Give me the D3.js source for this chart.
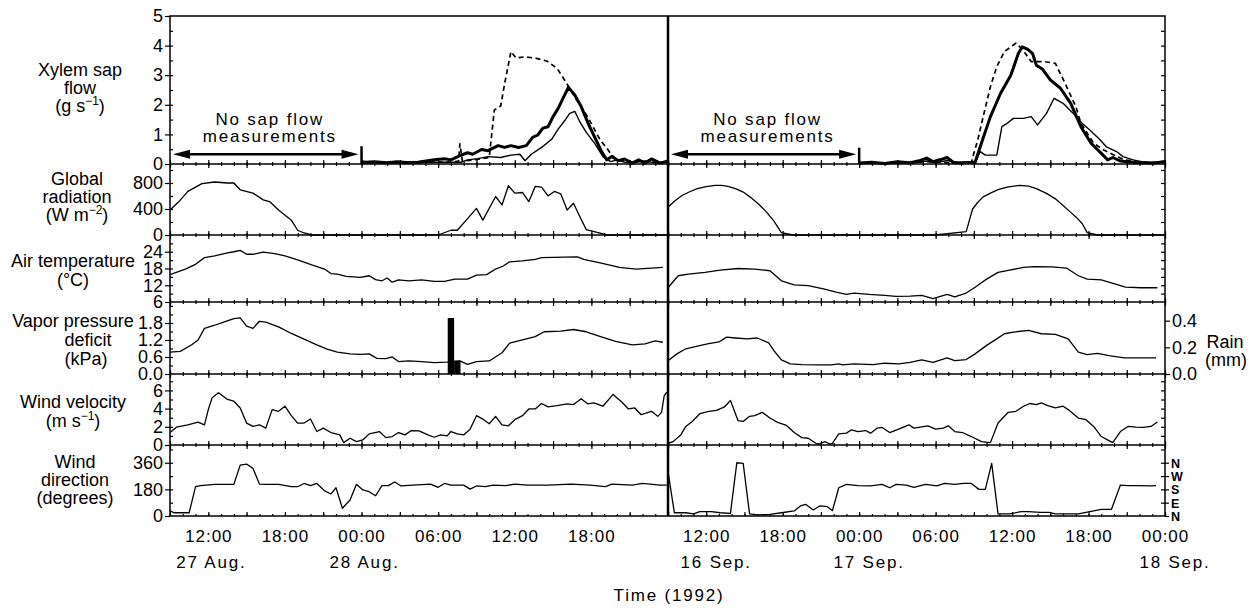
<!DOCTYPE html>
<html>
<head>
<meta charset="utf-8">
<script src="https://cdn.jsdelivr.net/npm/d3@7"></script>
<style>
  body { margin: 0; background: #fff; }
  svg { display: block; }
</style>
</head>
<body>
<svg id="chart" width="1257" height="608"></svg>
<script>
// All series: [hours after 09:00 of the first day shown, value]

// Xylem sap flow (g s-1), 28 Aug. side
const sapAugThick = [[15.0,0.05],[16.0,0.08],[17.0,0.04],[17.8,0.08],[18.5,0.05],[19.4,0.06],[20.7,0.14],[21.5,0.18],[22.0,0.14],[22.8,0.30],[23.3,0.38],[23.7,0.33],[24.4,0.49],[24.9,0.45],[25.7,0.62],[26.2,0.56],[26.7,0.62],[27.3,0.56],[27.9,0.62],[28.4,0.90],[28.8,0.98],[29.2,1.21],[29.6,1.26],[30.0,1.60],[30.4,1.88],[30.9,2.33],[31.2,2.59],[31.7,2.33],[32.2,1.94],[32.8,1.32],[33.3,0.87],[33.8,0.42],[34.2,0.14],[34.6,0.25],[35.1,0.11],[35.6,0.17],[36.2,0.03],[36.7,0.14],[37.2,0.03],[37.7,0.17],[38.4,0.03],[39.0,0.10]];
const sapAugThin = [[15.0,0.03],[16.5,0.05],[18.1,0.03],[20.7,0.06],[22.8,0.06],[23.3,0.14],[24.1,0.18],[24.9,0.25],[25.9,0.22],[26.7,0.30],[27.4,0.33],[27.8,0.11],[28.3,0.33],[29.1,0.56],[29.9,0.84],[30.4,1.18],[30.9,1.46],[31.3,1.71],[31.7,1.78],[32.1,1.42],[32.6,1.07],[33.3,0.67],[33.9,0.25],[34.5,0.08],[35.1,0.15],[35.6,0.06],[36.2,0.05],[37.2,0.10],[38.0,0.04],[39.0,0.05]];
const sapAugDash = [[15.0,0.10],[16.0,0.04],[17.5,0.06],[19.0,0.04],[20.5,0.07],[22.0,0.06],[22.6,0.10],[22.7,0.68],[22.9,0.10],[24.0,0.15],[25.0,0.22],[25.4,1.82],[25.9,1.96],[26.2,2.70],[26.7,3.80],[27.1,3.58],[27.8,3.62],[28.7,3.57],[29.5,3.48],[30.3,3.24],[30.9,2.84],[31.3,2.56],[32.0,2.05],[32.7,1.60],[33.2,1.20],[33.7,0.80],[34.2,0.54],[34.6,0.30],[35.1,0.12],[35.8,0.05],[37.0,0.10],[38.0,0.05],[39.0,0.08]];

// Xylem sap flow, 17 Sep. side
const sapSepThick = [[15.0,0.03],[16.0,0.06],[17.0,0.02],[18.0,0.08],[19.0,0.04],[19.8,0.12],[20.3,0.20],[20.8,0.08],[21.4,0.15],[21.9,0.22],[22.4,0.05],[23.0,0.04],[23.6,0.05],[24.1,0.05],[24.5,0.58],[25.3,1.60],[26.1,2.39],[26.9,3.00],[27.5,3.74],[27.8,3.96],[28.2,3.88],[28.6,3.74],[28.9,3.34],[29.4,3.20],[30.0,2.84],[30.8,2.56],[31.6,2.05],[32.4,1.26],[33.2,0.70],[34.0,0.36],[34.5,0.14],[34.9,0.22],[35.5,0.10],[36.6,0.05],[38.1,0.03],[39.0,0.08]];
const sapSepThin = [[15.0,0.02],[17.0,0.04],[19.0,0.03],[20.3,0.10],[21.0,0.04],[21.9,0.12],[23.0,0.03],[24.1,0.05],[24.5,0.42],[24.9,0.30],[25.8,0.30],[26.2,1.26],[26.6,1.37],[27.1,1.54],[27.9,1.54],[28.5,1.60],[29.0,1.32],[29.7,1.71],[30.3,2.22],[31.0,2.05],[31.8,1.71],[32.3,1.45],[33.1,1.15],[33.9,0.82],[34.4,0.58],[35.2,0.42],[35.7,0.25],[36.5,0.14],[37.5,0.05],[39.0,0.05]];
const sapSepDash = [[15.0,0.03],[18.0,0.03],[20.3,0.08],[22.0,0.04],[23.8,0.05],[24.0,0.36],[24.3,0.80],[24.8,1.72],[25.3,2.61],[25.8,3.29],[26.4,3.80],[27.3,4.08],[27.8,3.88],[28.5,3.46],[29.5,3.46],[30.4,3.40],[31.1,2.78],[32.0,1.94],[32.4,1.38],[32.9,1.04],[33.4,0.70],[34.2,0.47],[35.0,0.30],[35.8,0.14],[37.1,0.07],[38.2,0.05],[39.0,0.10]];

// Global radiation (W m-2)
const radAug = [[0,384],[0.7,514],[1.4,670],[2.5,790],[3.5,815],[4.5,800],[5.0,800],[5.5,695],[6.5,644],[7.3,540],[7.8,514],[8.5,384],[9.5,228],[10.0,73],[10.5,31],[11.1,0],[21.0,0],[22.0,73],[22.5,73],[23.2,228],[24.0,410],[24.5,228],[25.5,592],[26.0,462],[26.5,758],[27.0,644],[27.6,654],[28.1,514],[28.6,747],[29.1,737],[29.6,602],[30.1,670],[30.6,633],[31.1,384],[31.6,488],[32.1,280],[32.6,83],[33.6,31],[34.2,0],[39.0,0]];
const radSep = [[0,426],[0.5,520],[1.1,608],[1.7,665],[2.3,712],[3.0,745],[3.7,764],[4.2,762],[4.7,749],[5.3,712],[5.9,660],[6.5,575],[7.1,478],[7.7,360],[8.3,218],[8.9,36],[9.8,0],[21.0,0],[23.4,52],[23.9,400],[24.3,500],[24.7,582],[25.3,645],[25.9,697],[26.7,740],[27.6,764],[28.3,752],[28.9,712],[29.7,640],[30.4,556],[31.0,455],[31.6,348],[32.1,260],[32.5,177],[32.9,36],[33.7,0],[39.0,0]];

// Air temperature (°C)
const tempAug = [[0,15.8],[1.2,17.8],[2.0,19.5],[2.7,21.9],[3.5,22.5],[4.5,23.6],[5.0,24.0],[5.5,24.5],[6.0,23.1],[6.5,23.1],[7.3,23.9],[8.2,23.3],[9.0,22.5],[10.0,21.1],[11.1,19.3],[12.1,17.8],[12.6,16.2],[13.1,16.0],[13.8,15.2],[14.9,14.8],[15.6,15.4],[16.1,14.0],[16.6,13.6],[17.0,14.6],[17.4,13.1],[17.9,13.9],[18.7,13.6],[19.7,13.9],[20.7,13.4],[21.5,13.4],[22.3,14.2],[23.3,14.2],[24.0,15.6],[24.8,15.8],[25.5,17.8],[26.1,18.9],[26.6,20.4],[27.6,20.7],[28.6,21.3],[29.1,21.9],[30.9,22.1],[31.9,22.2],[32.4,21.3],[33.6,20.1],[35.2,18.4],[36.5,17.8],[37.7,18.1],[38.6,18.4]];
const tempSep = [[0,11.1],[0.8,15.4],[1.6,16.0],[2.9,16.6],[4.1,17.4],[5.5,18.0],[6.8,17.8],[8.0,17.2],[8.9,13.6],[9.9,12.1],[11.0,11.9],[12.2,10.7],[13.2,9.5],[14.0,8.7],[14.6,9.2],[15.8,8.7],[17.0,8.4],[17.9,8.0],[19.0,8.1],[19.9,8.4],[20.8,7.2],[21.9,8.7],[22.5,7.8],[23.4,9.2],[24.1,11.3],[25.0,14.2],[25.9,16.6],[26.8,17.4],[27.9,18.4],[28.7,18.7],[30.1,18.6],[31.3,18.1],[32.2,15.4],[32.9,14.2],[34.0,13.9],[35.9,11.3],[37.1,11.1],[38.4,11.1]];

// Vapor pressure deficit (kPa)
const vpdAug = [[0,0.77],[0.8,0.80],[1.7,1.03],[2.2,1.20],[2.7,1.61],[3.5,1.72],[4.2,1.83],[5.0,1.95],[5.5,1.98],[6.0,1.69],[6.5,1.61],[7.0,1.86],[7.5,1.83],[8.5,1.66],[9.5,1.43],[10.5,1.23],[11.5,1.03],[12.3,0.88],[13.1,0.77],[14.1,0.71],[14.9,0.69],[15.6,0.71],[16.2,0.55],[16.9,0.54],[17.4,0.60],[17.9,0.44],[18.7,0.46],[19.7,0.44],[20.7,0.40],[21.7,0.42],[22.7,0.46],[23.3,0.34],[24.0,0.44],[25.0,0.46],[26.0,0.75],[26.6,1.09],[27.6,1.20],[28.6,1.32],[29.3,1.49],[30.6,1.51],[31.6,1.57],[32.6,1.49],[33.6,1.34],[34.9,1.15],[36.2,1.03],[37.2,1.06],[38.0,1.17],[38.6,1.12]];
const vpdSep = [[0,0.47],[0.7,0.71],[1.4,0.89],[2.3,0.98],[3.2,1.07],[4.0,1.13],[4.6,1.30],[5.3,1.27],[6.2,1.24],[7.0,1.27],[7.9,1.10],[8.3,0.83],[8.9,0.50],[9.6,0.36],[10.5,0.33],[11.9,0.32],[12.8,0.32],[13.4,0.36],[13.7,0.32],[14.6,0.36],[16.1,0.33],[17.0,0.38],[18.1,0.36],[19.0,0.41],[19.9,0.50],[20.8,0.41],[21.9,0.57],[22.5,0.47],[23.4,0.51],[24.1,0.71],[25.0,1.01],[25.8,1.24],[26.4,1.42],[27.1,1.48],[28.3,1.54],[29.3,1.42],[30.4,1.40],[31.4,1.24],[32.2,0.77],[32.9,0.68],[33.7,0.73],[34.6,0.65],[35.8,0.57],[37.0,0.57],[38.3,0.57]];

// Rain (mm) per half hour, start of interval
const rainAug = [[21.75,0.42],[22.25,0.10]];

// Wind velocity (m s-1)
const windAug = [[0,1.37],[0.5,1.96],[1.4,2.22],[2.2,2.52],[2.7,2.22],[3.0,3.89],[3.3,5.19],[3.8,5.74],[4.5,5.00],[5.0,4.81],[5.5,4.07],[6.0,2.41],[6.5,2.04],[7.0,2.22],[7.5,1.85],[8.0,3.89],[8.5,3.70],[9.0,4.26],[9.5,3.22],[10.0,2.41],[10.5,2.41],[11.0,2.85],[11.5,1.48],[12.0,1.85],[12.6,1.37],[13.3,1.11],[13.6,0.26],[14.1,0.74],[14.6,0.37],[15.1,0.56],[15.6,1.22],[16.4,1.48],[16.9,0.81],[17.4,0.93],[17.9,1.37],[18.4,1.11],[18.9,1.59],[19.5,1.56],[20.2,1.11],[20.7,0.85],[21.2,1.11],[21.7,1.00],[22.0,1.48],[22.5,1.22],[23.0,1.11],[23.5,1.74],[24.0,3.22],[24.5,2.85],[25.0,2.33],[25.5,3.15],[26.0,2.22],[26.5,2.11],[27.0,2.78],[27.6,3.22],[28.1,3.96],[28.6,3.96],[29.1,4.56],[29.6,4.19],[30.3,4.33],[31.1,4.52],[31.6,4.44],[32.2,5.07],[32.7,4.52],[33.2,4.63],[33.9,4.26],[34.7,5.56],[35.4,4.70],[35.9,3.96],[36.4,4.07],[36.9,3.33],[37.7,3.70],[38.2,3.15],[38.5,3.60],[38.7,5.40],[38.9,5.80]];
const windSep = [[0,0.19],[0.4,0.37],[1.0,1.11],[1.4,2.04],[1.9,2.59],[2.5,3.44],[3.2,3.70],[3.8,3.81],[4.4,4.15],[4.9,4.89],[5.5,2.67],[5.9,2.59],[6.4,3.15],[6.8,3.22],[7.4,3.59],[8.0,2.96],[8.6,2.48],[9.3,2.15],[9.9,1.37],[10.5,0.81],[11.0,0.74],[11.6,0.19],[11.9,0.11],[12.3,0.37],[12.7,0.11],[12.9,0.19],[13.4,1.22],[14.0,1.30],[14.4,1.67],[14.9,1.48],[15.5,1.59],[15.9,1.30],[16.4,1.85],[16.8,1.93],[17.4,1.37],[18.1,1.74],[18.9,2.22],[19.3,1.85],[20.4,2.11],[21.0,1.74],[21.6,1.85],[22.0,2.11],[22.5,1.48],[23.1,1.37],[23.8,0.93],[24.6,0.37],[25.3,0.26],[25.9,2.41],[26.7,3.59],[27.3,3.70],[27.9,4.26],[28.4,4.56],[28.9,4.44],[29.3,4.63],[29.8,4.33],[30.4,4.07],[31.0,4.26],[31.4,3.89],[32.2,2.96],[32.8,2.78],[33.4,2.04],[34.0,0.93],[34.6,0.48],[34.9,0.26],[35.5,1.48],[36.1,2.04],[36.7,1.96],[37.3,1.93],[37.9,2.04],[38.4,2.52]];

// Wind direction (degrees)
const dirAug = [[0,36],[0.3,22],[1.5,22],[2.0,198],[2.4,205],[3.5,214],[4.5,214],[5.0,214],[5.5,344],[6.0,351],[6.5,322],[7.0,216],[7.5,214],[8.5,214],[9.5,198],[10.0,198],[10.5,220],[11.0,205],[11.5,220],[12.1,171],[12.6,149],[13.0,191],[13.5,52],[14.1,108],[14.6,214],[15.1,176],[15.6,164],[16.1,137],[16.6,205],[17.1,205],[17.6,230],[18.1,203],[19.0,209],[20.4,216],[21.0,194],[21.5,220],[22.0,209],[23.0,209],[23.5,182],[24.0,203],[24.7,198],[25.3,209],[26.3,205],[27.0,216],[28.0,209],[29.6,209],[31.4,216],[32.9,209],[34.1,198],[34.6,216],[36.2,209],[37.0,220],[38.4,209],[38.9,209]];
const dirSep = [[0,300],[0.5,22],[1.4,22],[2.0,14],[2.5,29],[3.4,29],[4.1,22],[4.9,18],[5.4,360],[5.9,356],[6.4,14],[7.0,7],[8.0,11],[8.9,22],[9.9,34],[10.4,68],[10.8,79],[11.4,41],[11.9,68],[12.5,63],[12.9,36],[13.4,191],[14.0,214],[14.9,205],[15.9,203],[16.8,214],[17.4,191],[17.9,214],[18.7,209],[19.3,194],[20.2,214],[21.1,203],[21.7,220],[22.5,214],[23.2,220],[23.8,220],[24.4,180],[24.9,180],[25.4,356],[25.9,14],[26.8,14],[27.7,29],[28.3,29],[29.2,25],[29.9,25],[30.4,14],[31.3,14],[32.2,14],[33.1,29],[34.0,45],[34.8,45],[35.5,209],[36.1,205],[37.0,205],[37.9,203],[38.3,205]];

// axis ticks and labels
const sapTicks = [0, 1, 2, 3, 4, 5];
const radTicks = [0, 400, 800];
const tempTicks = [6, 12, 18, 24];
const vpdTicks = [0, 0.6, 1.2, 1.8];
const windTicks = [0, 2, 4, 6];
const dirTicks = [0, 180, 360];
const rainTicks = [0, 0.2, 0.4];
const compassTicks = [0, 90, 180, 270, 360];
const compassLabels = ['N', 'E', 'S', 'W', 'N'];
const dateTicks = [new Date(1992, 7, 27, 12), new Date(1992, 7, 28, 0), new Date(1992, 8, 16, 12), new Date(1992, 8, 17, 0), new Date(1992, 8, 18, 0)];
const dateLabels = ['27 Aug.', '28 Aug.', '16 Sep.', '17 Sep.', '18 Sep.'];
const measureStartHour = 15; // sap flow logging starts at 00:00

const FONT = "'Liberation Sans', Arial, Helvetica, sans-serif";
const svg = d3.select('#chart').attr('font-family', FONT);

const xLeft = 170, xMid = 668, xRight = 1165;
const yTop = 16, yBottom = 516;

// two time windows side by side
const halves = [
  { start: new Date(1992, 7, 27, 9), end: new Date(1992, 7, 29, 0), range: [xLeft, xMid], dateDx: 3 },
  { start: new Date(1992, 8, 16, 9), end: new Date(1992, 8, 18, 0), range: [xMid, xRight], dateDx: 10 }
];
halves.forEach(h => { h.x = d3.scaleTime().domain([h.start, h.end]).range(h.range); });
const toTime = (start, hr) => new Date(start.getTime() + hr * 3600e3);
const xh = (half, hr) => half.x(toTime(half.start, hr));

// panel layout
const panels = {
  sap:  { top: 16,  bottom: 164, domain: [0, 5],    ticks: sapTicks,  minor: 0.5, fmt: d3.format('d'),
          label: [[80, 76, 'Xylem sap'], [80, 94, 'flow'], [80, 112, '(g s^{−1})']] },
  rad:  { top: 164, bottom: 235, domain: [0, 1092], ticks: radTicks,  minor: 200, fmt: d3.format('d'),
          label: [[77, 185, 'Global'], [77, 203, 'radiation'], [77, 221, '(W m^{−2})']] },
  temp: { top: 235, bottom: 302, domain: [6, 30],   ticks: tempTicks, minor: 3,   fmt: d3.format('d'),
          label: [[73, 267, 'Air temperature'], [73, 286, '(°C)']] },
  vpd:  { top: 302, bottom: 374, domain: [0, 2.54], ticks: vpdTicks,  minor: 0.3, fmt: d3.format('.1f'),
          label: [[73, 327, 'Vapor pressure'], [88, 346, 'deficit'], [86, 365, '(kPa)']] },
  wind: { top: 374, bottom: 445, domain: [0, 7.8],  ticks: windTicks, minor: 1,   fmt: d3.format('d'),
          label: [[73, 408, 'Wind velocity'], [73, 427, '(m s^{−1})']] },
  dir:  { top: 445, bottom: 516, domain: [0, 480],  ticks: dirTicks,  minor: 90,  fmt: d3.format('d'),
          label: [[75, 468, 'Wind'], [75, 486, 'direction'], [75, 504, '(degrees)']] }
};
Object.values(panels).forEach(p => {
  p.y = d3.scaleLinear().domain(p.domain).range([p.bottom, p.top]);
  p.steps = d3.range(p.domain[0] + p.minor, p.domain[1] - 1e-6, p.minor);
});
const yRain = d3.scaleLinear().domain([0, 0.54]).range([panels.vpd.bottom, panels.vpd.top]);

function styleAxis(g, size) {
  g.attr('font-family', FONT).attr('font-size', size).attr('stroke-width', 1.2);
  g.select('.domain').remove();
}

// time ticks on every panel border
Object.values(panels).forEach((p, i) => {
  halves.forEach(h => {
    [[1, 2], [3, 4]].forEach(([every, size]) => {
      svg.append('g').attr('transform', `translate(0,${p.bottom})`)
        .call(d3.axisTop(h.x).ticks(d3.timeHour.every(every)).tickSize(size).tickFormat(''))
        .call(g => styleAxis(g, 10));
      if (i > 0) {
        svg.append('g').attr('transform', `translate(0,${p.top})`)
          .call(d3.axisBottom(h.x).ticks(d3.timeHour.every(every)).tickSize(size).tickFormat(''))
          .call(g => styleAxis(g, 10));
      }
    });
  });
});

// y axes
Object.entries(panels).forEach(([key, p]) => {
  svg.append('g').attr('transform', `translate(${xLeft},0)`)
    .call(d3.axisLeft(p.y).tickValues(p.ticks).tickSize(5).tickPadding(2).tickFormat(p.fmt))
    .call(g => styleAxis(g, 18));
  svg.append('g').attr('transform', `translate(${xLeft},0)`)
    .call(d3.axisRight(p.y).tickValues(p.steps).tickSize(3).tickFormat(''))
    .call(g => styleAxis(g, 10));
  if (key !== 'vpd' && key !== 'dir') {
    svg.append('g').attr('transform', `translate(${xRight},0)`)
      .call(d3.axisLeft(p.y).tickValues(p.steps).tickSize(4).tickFormat(''))
      .call(g => styleAxis(g, 10));
  }
  // row title, "^{..}" marks a superscript
  p.label.forEach(([cx, by, str]) => {
    const t = svg.append('text').attr('x', cx).attr('y', by).attr('text-anchor', 'middle')
      .attr('font-size', 18).attr('fill', '#000');
    let drop = 0;
    str.split(/(\^\{[^}]*\})/).filter(s => s.length).forEach(part => {
      if (part.startsWith('^{')) {
        t.append('tspan').attr('dy', -7).attr('font-size', 12).text(part.slice(2, -1));
        drop = 7;
      } else {
        t.append('tspan').attr('dy', drop || null).text(part);
        drop = 0;
      }
    });
  });
});

// rain axis (right of VPD panel)
svg.append('g').attr('transform', `translate(${xRight},0)`)
  .call(d3.axisRight(yRain).tickValues(rainTicks).tickSize(5).tickPadding(2).tickFormat(d3.format('.1f')))
  .call(g => styleAxis(g, 18));
svg.append('text').attr('x', 1225).attr('y', 348).attr('text-anchor', 'middle').attr('font-size', 18).text('Rain');
svg.append('text').attr('x', 1226).attr('y', 366).attr('text-anchor', 'middle').attr('font-size', 18).text('(mm)');

// compass axis (right of wind direction panel)
svg.append('g').attr('transform', `translate(${xRight},0)`)
  .call(d3.axisRight(panels.dir.y).tickValues(compassTicks).tickSize(4).tickPadding(2)
    .tickFormat((d, i) => compassLabels[i]))
  .call(g => styleAxis(g, 12.5))
  .call(g => g.selectAll('text').attr('font-weight', 'bold').attr('dy', '0.36em'));
svg.append('g').attr('transform', `translate(${xRight},0)`)
  .call(d3.axisLeft(panels.dir.y).tickValues(panels.dir.steps).tickSize(4).tickFormat(''))
  .call(g => styleAxis(g, 10));

// frame
const frame = svg.append('g').attr('fill', 'none').attr('stroke', '#000');
frame.append('rect').attr('x', xLeft).attr('y', yTop).attr('width', xRight - xLeft).attr('height', yBottom - yTop)
  .attr('stroke-width', 1.5);
Object.values(panels).slice(1).forEach(p => {
  frame.append('line').attr('x1', xLeft).attr('x2', xRight).attr('y1', p.top).attr('y2', p.top).attr('stroke-width', 1.3);
});
frame.append('line').attr('x1', xMid).attr('x2', xMid).attr('y1', yTop).attr('y2', yBottom).attr('stroke-width', 2.5);

// rain bars
const aug = halves[0], sep = halves[1];
svg.append('g').selectAll('rect').data(rainAug).join('rect')
  .attr('x', d => xh(aug, d[0]))
  .attr('width', d => xh(aug, d[0] + 0.5) - xh(aug, d[0]))
  .attr('y', d => yRain(d[1]))
  .attr('height', d => yRain(0) - yRain(d[1]))
  .attr('fill', '#000');

// lines
const lineStyles = {
  thick: { w: 3, dash: null },
  thin:  { w: 1.4, dash: null },
  dash:  { w: 1.7, dash: '5,3.5' },
  met:   { w: 1.3, dash: null }
};
const series = [
  [sapAugDash, aug, 'sap', 'dash'], [sapAugThin, aug, 'sap', 'thin'], [sapAugThick, aug, 'sap', 'thick'],
  [sapSepDash, sep, 'sap', 'dash'], [sapSepThin, sep, 'sap', 'thin'], [sapSepThick, sep, 'sap', 'thick'],
  [radAug, aug, 'rad', 'met'], [radSep, sep, 'rad', 'met'],
  [tempAug, aug, 'temp', 'met'], [tempSep, sep, 'temp', 'met'],
  [vpdAug, aug, 'vpd', 'met'], [vpdSep, sep, 'vpd', 'met'],
  [windAug, aug, 'wind', 'met'], [windSep, sep, 'wind', 'met'],
  [dirAug, aug, 'dir', 'met'], [dirSep, sep, 'dir', 'met']
];
series.forEach(([pts, half, key, style]) => {
  const p = panels[key], s = lineStyles[style];
  const line = d3.line().x(d => xh(half, d[0])).y(d => p.y(d[1]));
  svg.append('path').datum(pts)
    .attr('fill', 'none').attr('stroke', '#000')
    .attr('stroke-width', s.w)
    .attr('stroke-dasharray', s.dash)
    .attr('stroke-linejoin', 'round')
    .attr('d', line);
});

// "No sap flow measurements" arrows and start markers
halves.forEach((h, i) => {
  const y = panels.sap.y;
  const x0 = xh(h, 0) + 3, x1 = xh(h, measureStartHour) - 3, ya = y(0.33);
  const g = svg.append('g');
  g.append('line').attr('x1', x0 + 8).attr('x2', x1 - 8).attr('y1', ya).attr('y2', ya)
    .attr('stroke', '#000').attr('stroke-width', 2.6);
  g.append('path').attr('d', `M${x0},${ya}L${x0 + 17},${ya - 4.5}L${x0 + 17},${ya + 4.5}Z`).attr('fill', '#000');
  g.append('path').attr('d', `M${x1},${ya}L${x1 - 17},${ya - 4.5}L${x1 - 17},${ya + 4.5}Z`).attr('fill', '#000');
  const xs = xh(h, measureStartHour);
  g.append('line').attr('x1', xs).attr('x2', xs).attr('y1', y(0)).attr('y2', y(i === 0 ? 0.6 : 0.55))
    .attr('stroke', '#000').attr('stroke-width', 2.5);
  const cx = (x0 + x1) / 2 + 4;
  g.append('text').attr('x', cx).attr('y', 125).attr('text-anchor', 'middle')
    .attr('font-size', 17).attr('letter-spacing', 1.8).text('No sap flow');
  g.append('text').attr('x', cx).attr('y', 142).attr('text-anchor', 'middle')
    .attr('font-size', 17).attr('letter-spacing', 1.8).text('measurements');
});

// time labels
const fmt = d3.timeFormat('%H:%M');
halves.forEach((h, i) => {
  let ticks = h.x.ticks(d3.timeHour.every(6));
  if (i === 0) ticks = ticks.filter(t => t < h.end);
  svg.append('g').selectAll('text').data(ticks).join('text')
    .attr('x', d => h.x(d) + 0.5).attr('y', 542)
    .attr('text-anchor', 'middle').attr('font-size', 17).attr('letter-spacing', 1)
    .text(d => fmt(d));
});
dateTicks.forEach((t, i) => {
  const h = halves.find(hh => t >= hh.start && t <= hh.end);
  svg.append('text').attr('x', h.x(t) + h.dateDx).attr('y', 568)
    .attr('text-anchor', 'middle').attr('font-size', 17).attr('letter-spacing', 1.8)
    .text(dateLabels[i]);
});
svg.append('text').attr('x', 669).attr('y', 601).attr('text-anchor', 'middle')
  .attr('font-size', 17).attr('letter-spacing', 1.8).text('Time (1992)');
</script>
</body>
</html>
